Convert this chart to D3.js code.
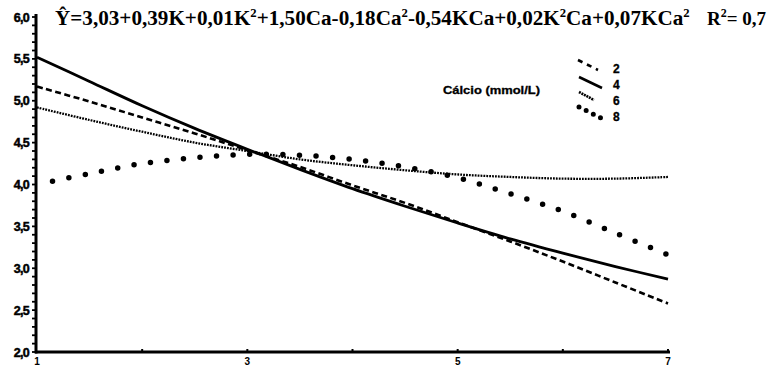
<!DOCTYPE html>
<html>
<head>
<meta charset="utf-8">
<script src="https://cdn.jsdelivr.net/npm/d3@7/dist/d3.min.js"></script>
<style>
  html, body { margin: 0; padding: 0; background: #fff; }
  svg { display: block; }
</style>
</head>
<body>
<svg id="chart" width="777" height="367"></svg>
<script>
// Potassium levels (K) along the x axis
const kLevels = [1, 1.5, 2, 2.5, 3, 3.5, 4, 4.5, 5, 5.5, 6, 6.5, 7];

// Estimated response for each calcium level (mmol/L)
const ca2 = [5.17, 4.99, 4.80, 4.61, 4.41, 4.21, 3.99, 3.78, 3.55, 3.32, 3.08, 2.83, 2.58];
const ca4 = [5.52, 5.23, 4.94, 4.67, 4.42, 4.18, 3.95, 3.74, 3.54, 3.35, 3.18, 3.02, 2.87];
const ca6 = [4.92, 4.77, 4.63, 4.50, 4.40, 4.30, 4.23, 4.17, 4.12, 4.09, 4.07, 4.07, 4.09];
const ca8 = [4.00, 4.13, 4.25, 4.32, 4.36, 4.35, 4.30, 4.21, 4.08, 3.89, 3.68, 3.42, 3.16];

const caLabels = ["2", "4", "6", "8"];
const xTickValues = [1, 3, 5, 7];
const yTickValues = [2.0, 2.5, 3.0, 3.5, 4.0, 4.5, 5.0, 5.5, 6.0];

const svg = d3.select("#chart");

const x = d3.scaleLinear().domain([1, 7]).range([37, 668]);
const y = d3.scaleLinear().domain([2, 6]).range([352, 17]);

const fmt = v => v.toFixed(1).replace(".", ",");
const sans = "Liberation Sans, Arial, sans-serif";
const serif = "Liberation Serif, Times New Roman, serif";

// Line styles per calcium level: dashed, solid, fine dotted, large dots
const styles = [
  { width: 2.6, dash: "6,3.5", cap: "butt" },
  { width: 2.8, dash: null, cap: "butt" },
  { width: 2.3, dash: "1.8,1.1", cap: "butt" },
  { width: 5.5, dash: "0,16.6", cap: "round", offset: -16 }
];

const seriesData = [ca2, ca4, ca6, ca8];

const line = d3.line()
  .x((d, i) => x(kLevels[i]))
  .y(d => y(d))
  .curve(d3.curveCatmullRom);

// Y axis with minor ticks every 0.1
const yAxis = svg.append("g");
d3.range(2, 6.0001, 0.1).forEach(v => {
  yAxis.append("line")
    .attr("x1", 32).attr("x2", 36)
    .attr("y1", y(v)).attr("y2", y(v))
    .attr("stroke", "#000").attr("stroke-width", 1.8);
});
yAxis.append("line")
  .attr("x1", 36).attr("x2", 36)
  .attr("y1", y(6) - 3).attr("y2", y(2) + 1.5)
  .attr("stroke", "#000").attr("stroke-width", 3);

yAxis.selectAll("text.ytick")
  .data(yTickValues)
  .join("text")
  .attr("class", "ytick")
  .attr("x", 29)
  .attr("y", d => y(d) + 4.5)
  .attr("text-anchor", "end")
  .attr("font-family", sans)
  .attr("font-weight", "bold")
  .attr("font-size", 12.5)
  .attr("letter-spacing", -0.7)
  .attr("stroke", "#000")
  .attr("stroke-width", 0.5)
  .text(fmt);

// X axis
const xAxis = svg.append("g");
xAxis.append("line")
  .attr("x1", 35).attr("x2", x(7) + 2)
  .attr("y1", y(2)).attr("y2", y(2))
  .attr("stroke", "#000").attr("stroke-width", 3);
d3.range(2, 7.01, 1).forEach(v => {
  xAxis.append("line")
    .attr("x1", x(v)).attr("x2", x(v))
    .attr("y1", y(2) - 3).attr("y2", y(2))
    .attr("stroke", "#000").attr("stroke-width", 2);
});
xAxis.selectAll("text.xtick")
  .data(xTickValues)
  .join("text")
  .attr("class", "xtick")
  .attr("x", d => x(d))
  .attr("y", 365)
  .attr("text-anchor", "middle")
  .attr("font-family", sans)
  .attr("font-weight", "bold")
  .attr("font-size", 10)
  .text(d => d);

// Curves
svg.append("g").selectAll("path")
  .data(seriesData)
  .join("path")
  .attr("d", d => line(d))
  .attr("fill", "none")
  .attr("stroke", "#000")
  .attr("stroke-width", (d, i) => styles[i].width)
  .attr("stroke-dasharray", (d, i) => styles[i].dash)
  .attr("stroke-dashoffset", (d, i) => styles[i].offset || 0)
  .attr("stroke-linecap", (d, i) => styles[i].cap);

// Regression equation
const title = svg.append("text")
  .attr("x", 55)
  .attr("y", 25)
  .attr("font-family", serif)
  .attr("font-weight", "bold")
  .attr("font-size", 20);
const parts = [
  ["Ŷ=3,03+0,39K+0,01K", "2"],
  ["+1,50Ca-0,18Ca", "2"],
  ["-0,54KCa+0,02K", "2"],
  ["Ca+0,07KCa", "2"]
];
let shift = 0;
parts.forEach(([t, sup]) => {
  title.append("tspan").attr("dy", shift).text(t);
  title.append("tspan").attr("font-size", 12).attr("dy", -8).text(sup);
  shift = 8;
});
const tw = title.node().getComputedTextLength();
title.attr("transform", `translate(55,0) scale(${635 / tw},1) translate(-55,0)`);

const r2 = svg.append("text")
  .attr("x", 707)
  .attr("y", 25)
  .attr("font-family", serif)
  .attr("font-weight", "bold")
  .attr("font-size", 19);
r2.append("tspan").text("R");
r2.append("tspan").attr("font-size", 12).attr("dy", -8).text("2");
r2.append("tspan").attr("dy", 8).text("= 0,7");

// Legend
const legend = svg.append("g");
legend.append("text")
  .attr("x", 443)
  .attr("y", 94)
  .attr("font-family", sans)
  .attr("font-weight", "bold")
  .attr("font-size", 11)
  .attr("textLength", 97)
  .attr("lengthAdjust", "spacingAndGlyphs")
  .attr("stroke", "#000")
  .attr("stroke-width", 0.3)
  .text("Cálcio (mmol/L)");

const legendSegs = [
  { x1: 578, y1: 60, x2: 598, y2: 70, dash: "5,5", w: 2.6, cap: "butt" },
  { x1: 579, y1: 77, x2: 602, y2: 88, dash: null, w: 2.6, cap: "butt" },
  { x1: 579, y1: 92, x2: 594, y2: 100, dash: "2,0.8", w: 2.6, cap: "butt" },
  { x1: 579, y1: 107, x2: 601, y2: 118, dash: "0,8", w: 5, cap: "round" }
];
legend.selectAll("line")
  .data(legendSegs)
  .join("line")
  .attr("x1", d => d.x1).attr("y1", d => d.y1)
  .attr("x2", d => d.x2).attr("y2", d => d.y2)
  .attr("stroke", "#000")
  .attr("stroke-width", d => d.w)
  .attr("stroke-dasharray", d => d.dash)
  .attr("stroke-linecap", d => d.cap);

legend.selectAll("text.lab")
  .data(caLabels)
  .join("text")
  .attr("class", "lab")
  .attr("x", 613)
  .attr("y", (d, i) => 73 + i * 16)
  .attr("font-family", sans)
  .attr("font-weight", "bold")
  .attr("font-size", 12)
  .attr("stroke", "#000")
  .attr("stroke-width", 0.3)
  .text(d => d);
</script>
</body>
</html>
